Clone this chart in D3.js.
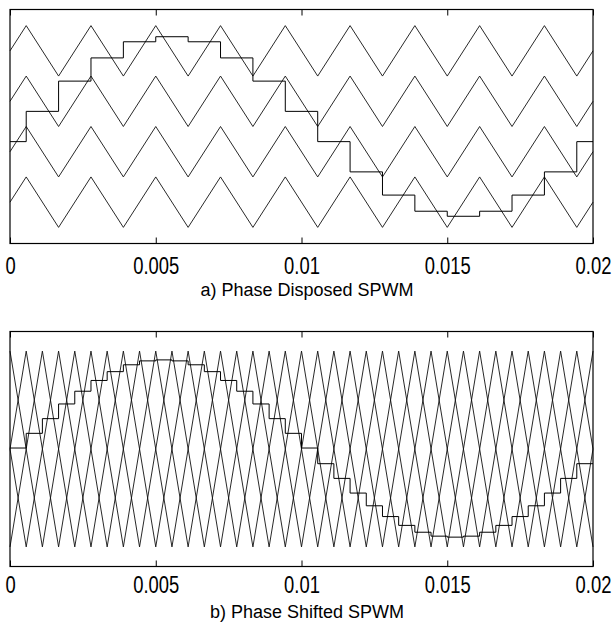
<!DOCTYPE html>
<html>
<head>
<meta charset="utf-8">
<script src="https://cdn.jsdelivr.net/npm/d3@7"></script>
<style>
  body { margin: 0; background: #fff; }
  svg { display: block; font-family: "Liberation Sans", Arial, sans-serif; }
</style>
</head>
<body>
<div id="chart"></div>
<script>
// x axis ticks (seconds)
const tickValues = [0, 0.005, 0.01, 0.015, 0.02];
const tickLabels = ["0", "0.005", "0.01", "0.015", "0.02"];
const titles = ["a) Phase Disposed SPWM", "b) Phase Shifted SPWM"];

// a) phase disposed: carrier corner times (s), 4 stacked carrier bands
const pdTimes = [0, 0.000556, 0.001667, 0.002778, 0.003889, 0.005, 0.006111, 0.007222,
  0.008333, 0.009444, 0.010556, 0.011667, 0.012778, 0.013889, 0.015, 0.016111,
  0.017222, 0.018333, 0.019444, 0.02];
const pdBands = [[0.5, 1], [0, 0.5], [-0.5, 0], [-1, -0.5]];
// sampled reference, one level per step (step i starts at pdTimes[i])
const pdRef = [-0.15, 0.15, 0.45, 0.68, 0.84, 0.89, 0.84, 0.68, 0.45, 0.15,
  -0.15, -0.45, -0.68, -0.84, -0.89, -0.84, -0.68, -0.45, -0.15];

// b) phase shifted: carrier corner times (s), 4 full-range carriers
const psTimes = [0, 0.000556, 0.001111, 0.001667, 0.002222, 0.002778, 0.003333, 0.003889,
  0.004444, 0.005, 0.005556, 0.006111, 0.006667, 0.007222, 0.007778, 0.008333,
  0.008889, 0.009444, 0.01, 0.010556, 0.011111, 0.011667, 0.012222, 0.012778,
  0.013333, 0.013889, 0.014444, 0.015, 0.015556, 0.016111, 0.016667, 0.017222,
  0.017778, 0.018333, 0.018889, 0.019444, 0.02];
const psPeakIndex = [0, 1, 2, 3]; // corner index of each carrier's first peak
const psRef = [0.01, 0.16, 0.31, 0.46, 0.59, 0.7, 0.79, 0.86, 0.9, 0.91, 0.9, 0.86,
  0.79, 0.7, 0.59, 0.46, 0.31, 0.16, 0.01, -0.15, -0.3, -0.45, -0.58, -0.69,
  -0.78, -0.85, -0.89, -0.9, -0.89, -0.85, -0.78, -0.69, -0.58, -0.45, -0.3, -0.15];

const width = 614, height = 625;
const left = 10, right = 593;

const svg = d3.select("#chart").append("svg")
  .attr("width", width)
  .attr("height", height);

const x = d3.scaleLinear().domain([0, 0.02]).range([left, right]);

function pdCarriers() {
  const last = pdTimes.length - 1;
  return pdBands.map(b => pdTimes.map((t, i) => {
    if (i === 0 || i === last) return [t, (b[0] + b[1]) / 2];
    return [t, i % 2 ? b[1] : b[0]];
  }));
}

function psCarriers() {
  const last = psTimes.length - 1;
  return psPeakIndex.map(p => {
    let pts = [];
    psTimes.forEach((t, k) => {
      let r = ((k - p) % 4 + 4) % 4;
      if (r === 0) pts.push([t, 1]);
      else if (r === 2) pts.push([t, -1]);
      else if (k === 0 || k === last) pts.push([t, 0]);
    });
    return pts;
  });
}

function steps(times, ref) {
  let pts = ref.map((v, i) => [times[i], v]);
  pts.push([0.02, ref[ref.length - 1]]);
  return pts;
}

function drawPanel(cfg) {
  const y = d3.scaleLinear().domain(cfg.yDomain).range([cfg.bottom, cfg.top]);
  const g = svg.append("g");

  const line = d3.line().x(d => x(d[0])).y(d => y(d[1]));
  const stepLine = d3.line().x(d => x(d[0])).y(d => y(d[1])).curve(d3.curveStepAfter);

  g.selectAll("path.carrier")
    .data(cfg.carriers)
    .enter()
    .append("path")
    .classed("carrier", true)
    .attr("d", line)
    .attr("fill", "none")
    .attr("stroke", "#111")
    .attr("stroke-width", 0.9);

  g.append("path")
    .attr("d", stepLine(cfg.ref))
    .attr("fill", "none")
    .attr("stroke", "#000")
    .attr("stroke-width", 1);

  // inward ticks on top and bottom, labels under the bottom
  g.append("g")
    .attr("transform", `translate(0,${cfg.top})`)
    .call(d3.axisTop(x).tickValues(tickValues).tickSize(-6).tickSizeOuter(0).tickFormat(""))
    .call(a => a.select(".domain").remove());

  const xa = g.append("g")
    .attr("transform", `translate(0,${cfg.bottom})`)
    .call(d3.axisBottom(x).tickValues(tickValues).tickSize(-6).tickSizeOuter(0)
      .tickFormat((d, i) => tickLabels[i]));
  xa.select(".domain").remove();
  xa.selectAll("line").attr("stroke", "#000");
  xa.selectAll("text")
    .attr("y", cfg.labelY - cfg.bottom)
    .attr("dy", 0)
    .attr("transform", "scale(0.8,1)")
    .style("font-size", "23px")
    .style("font-family", "'Liberation Sans', Arial, sans-serif")
    .style("fill", "#000");

  g.append("rect")
    .attr("x", left)
    .attr("y", cfg.top)
    .attr("width", right - left)
    .attr("height", cfg.bottom - cfg.top)
    .attr("fill", "none")
    .attr("stroke", "#000")
    .attr("stroke-width", 1.2);

  g.append("text")
    .attr("x", 307)
    .attr("y", cfg.titleY)
    .attr("text-anchor", "middle")
    .style("font-size", "18px")
    .style("fill", "#000")
    .text(cfg.title);
}

drawPanel({
  top: 9.5, bottom: 243.5, yDomain: [-1.16, 1.16],
  carriers: pdCarriers(), ref: steps(pdTimes, pdRef),
  labelY: 274.5, titleY: 295.5, title: titles[0]
});

drawPanel({
  top: 331.5, bottom: 566.5, yDomain: [-1.2, 1.2],
  carriers: psCarriers(), ref: steps(psTimes, psRef),
  labelY: 593.5, titleY: 618, title: titles[1]
});
</script>
</body>
</html>
